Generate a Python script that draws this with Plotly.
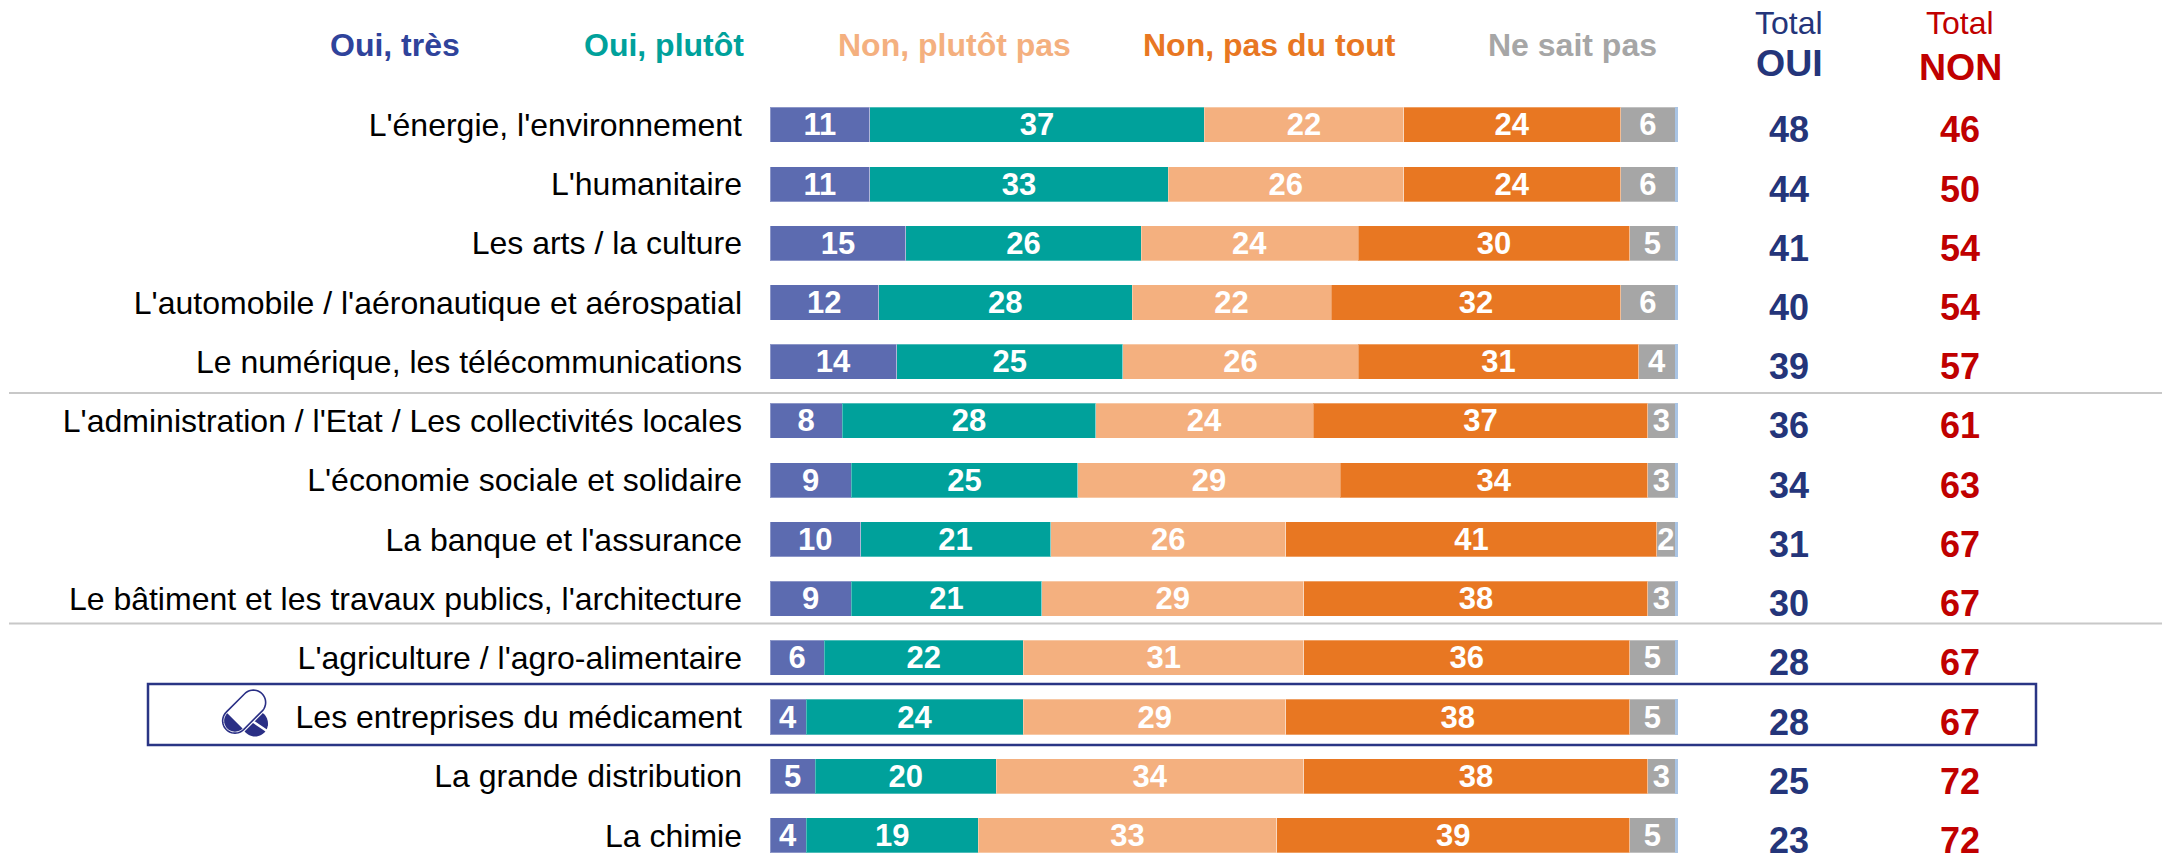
import math
import plotly.graph_objects as go

W, H = 2162, 855

categories = ["L'énergie, l'environnement", "L'humanitaire", "Les arts / la culture",
              "L'automobile / l'aéronautique et aérospatial", "Le numérique, les télécommunications",
              "L'administration / l'Etat / Les collectivités locales", "L'économie sociale et solidaire",
              "La banque et l'assurance", "Le bâtiment et les travaux publics, l'architecture",
              "L'agriculture / l'agro-alimentaire", "Les entreprises du médicament",
              "La grande distribution", "La chimie"]
oui_tres = [11, 11, 15, 12, 14, 8, 9, 10, 9, 6, 4, 5, 4]
oui_plutot = [37, 33, 26, 28, 25, 28, 25, 21, 21, 22, 24, 20, 19]
non_plutot = [22, 26, 24, 22, 26, 24, 29, 26, 29, 31, 29, 34, 33]
non_pas = [24, 24, 30, 32, 31, 37, 34, 41, 38, 36, 38, 38, 39]
nsp = [6, 6, 5, 6, 4, 3, 3, 2, 3, 5, 5, 3, 5]
sliver = [0.3] * 13
total_oui = [48, 44, 41, 40, 39, 36, 34, 31, 30, 28, 28, 25, 23]
total_non = [46, 50, 54, 54, 57, 61, 63, 67, 67, 67, 67, 72, 72]

series_names = ["Oui, très", "Oui, plutôt", "Non, plutôt pas", "Non, pas du tout", "Ne sait pas"]
series_values = [oui_tres, oui_plutot, non_plutot, non_pas, nsp]
bar_colors = ["#5C6BB0", "#00A19B", "#F4B07F", "#E87722", "#A6A6A6"]
header_colors = ["#2F439B", "#00A19B", "#F4B07F", "#E87722", "#A6A6A6"]
header_right = [462, 746, 1073, 1398, 1659]

FONT = "Liberation Sans"
NAVY = "#24357A"
RED = "#C00000"


def fx(x):
    return x / W


def fy(y):
    return 1 - y / H


fig = go.Figure()
for name, vals, col in zip(series_names, series_values, bar_colors):
    fig.add_trace(go.Bar(
        y=categories, x=vals, name=name, orientation="h", width=0.592,
        marker=dict(color=col, line=dict(color="rgba(255,255,255,0.3)", width=1)),
        text=[str(v) for v in vals], textposition="inside", insidetextanchor="middle",
        textangle=0, constraintext="none", cliponaxis=False,
        textfont=dict(family=FONT, size=31, color="white", weight="bold"),
        hoverinfo="skip"))
fig.add_trace(go.Bar(y=categories, x=sliver, orientation="h", width=0.592,
                     marker=dict(color="#A9C4E4", line=dict(width=0)), hoverinfo="skip"))

annotations = []
for name, col, right in zip(series_names, header_colors, header_right):
    annotations.append(dict(xref="paper", yref="paper", x=fx(right), y=fy(45), text=f"<b>{name}</b>",
                            xanchor="right", yanchor="middle", showarrow=False,
                            font=dict(family=FONT, size=32, color=col)))
for x, col, top, bottom, ybot in [(1789, NAVY, "Total", "OUI", 63), (1960, RED, "Total", "NON", 67)]:
    annotations.append(dict(xref="paper", yref="paper", x=fx(x), y=fy(23), text=top, xanchor="center",
                            yanchor="middle", showarrow=False, font=dict(family=FONT, size=32, color=col)))
    annotations.append(dict(xref="paper", yref="paper", x=fx(x), y=fy(ybot), text=f"<b>{bottom}</b>",
                            xanchor="center", yanchor="middle", showarrow=False,
                            font=dict(family=FONT, size=37.5, color=col)))
for cat, a, b in zip(categories, total_oui, total_non):
    annotations.append(dict(xref="paper", yref="y", x=fx(1789), y=cat, yshift=-5, text=f"<b>{a}</b>",
                            xanchor="center", yanchor="middle", showarrow=False,
                            font=dict(family=FONT, size=36, color=NAVY)))
    annotations.append(dict(xref="paper", yref="y", x=fx(1960), y=cat, yshift=-5, text=f"<b>{b}</b>",
                            xanchor="center", yanchor="middle", showarrow=False,
                            font=dict(family=FONT, size=36, color=RED)))


def path(points):
    return "M" + " L".join(f"{fx(x):.5f},{fy(y):.5f}" for x, y in points) + " Z"


def capsule(x0, y0, x1, y1, r, n=24):
    ang = math.atan2(y1 - y0, x1 - x0)
    pts = []
    for i in range(n + 1):
        t = ang - math.pi / 2 - math.pi * i / n
        pts.append((x0 + r * math.cos(t), y0 + r * math.sin(t)))
    for i in range(n + 1):
        t = ang + math.pi / 2 - math.pi * i / n
        pts.append((x1 + r * math.cos(t), y1 + r * math.sin(t)))
    return pts


def paper_shape(points, fill, line=None, lw=0):
    return dict(type="path", xref="paper", yref="paper", path=path(points), fillcolor=fill,
                line=dict(color=line or fill, width=lw), layer="above")


shapes = []
for y in (393, 623.5):
    shapes.append(dict(type="line", xref="paper", yref="paper", x0=fx(9), x1=1, y0=fy(y), y1=fy(y),
                       line=dict(color="#C8C8C8", width=2), layer="above"))
shapes.append(dict(type="rect", xref="paper", yref="paper", x0=fx(148), x1=fx(2036), y0=fy(684), y1=fy(745),
                   line=dict(color="#2A3585", width=2.5), fillcolor="rgba(0,0,0,0)", layer="below"))

# Pill icon
ox, oy = 210, 680
ICON = "#2A2F85"
A = (ox + 24.95, oy + 40.85)
B = (ox + 43.35, oy + 22.45)
tablet = [(ox + 45 + 13 * math.cos(i * math.pi / 24), oy + 43.5 + 13 * math.sin(i * math.pi / 24)) for i in range(48)]
shapes.append(paper_shape(tablet, ICON))
shapes.append(paper_shape([(ox + 38.5, oy + 40), (ox + 40, oy + 38.2), (ox + 60, oy + 51.5), (ox + 58.5, oy + 53.5)], "white"))
shapes.append(paper_shape(capsule(*A, *B, 14.2), "white"))
shapes.append(paper_shape(capsule(*A, *B, 12.3), "white", ICON, 1.6))
half = [p for p in capsule(*A, *B, 10.8) if (p[0] - (ox + 32)) - (p[1] - (oy + 34)) < 0]
shapes.append(paper_shape(half, ICON))

fig.update_layout(
    width=W, height=H, autosize=False, barmode="stack", bargap=0.4, showlegend=False,
    margin=dict(l=0, r=0, t=0, b=0), paper_bgcolor="white", plot_bgcolor="rgba(0,0,0,0)",
    font=dict(family=FONT),
    xaxis=dict(domain=[fx(770), fx(770 + 9.05 * 101)], range=[0, 101], visible=False, fixedrange=True),
    yaxis=dict(domain=[0, fy(95.2)], range=[12.33, -0.5], type="category", showgrid=False, zeroline=False,
               showline=False, ticks="", ticklabelstandoff=27, fixedrange=True,
               tickfont=dict(family=FONT, size=32, color="black")),
    annotations=annotations, shapes=shapes)

fig.write_html("out.html", post_script="document.body.style.margin='0';document.body.style.overflow='hidden';",
               config=dict(displayModeBar=False))
